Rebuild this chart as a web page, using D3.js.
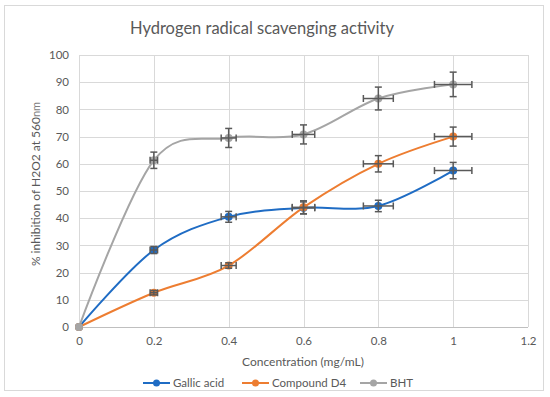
<!DOCTYPE html>
<html><head><meta charset="utf-8">
<script src="https://cdn.jsdelivr.net/npm/d3@7"></script>
<style>
html,body{margin:0;padding:0;background:#fff;}
text{font-family:Lato,"Open Sans",sans-serif;fill:#595959;}
</style></head>
<body><svg id="c" width="550" height="397"></svg>
<script>
const concentration = [0, 0.2, 0.4, 0.6, 0.8, 1.0];
const gallicAcid = [0, 28.3, 40.5, 43.8, 44.5, 57.5];
const compoundD4 = [0, 12.6, 22.6, 44.0, 60.0, 70.0];
const bht = [0, 61.3, 69.5, 70.8, 84.0, 89.2];
const gallicErr = [0, 1.3, 2.0, 2.2, 2.1, 3.0];
const d4Err = [0, 0.8, 1.0, 2.4, 3.0, 3.5];
const bhtErr = [0, 3.0, 3.5, 3.5, 4.2, 4.5];
const xErrPct = 0.05;
const xTicks = [0, 0.2, 0.4, 0.6, 0.8, 1, 1.2];
const yTicks = [0, 10, 20, 30, 40, 50, 60, 70, 80, 90, 100];
const seriesNames = ["Gallic acid", "Compound D4", "BHT"];
const seriesColors = ["#1f6cc4", "#ed7d31", "#a5a5a5"];

const series = [
  {name: seriesNames[0], color: seriesColors[0], vals: gallicAcid, err: gallicErr},
  {name: seriesNames[1], color: seriesColors[1], vals: compoundD4, err: d4Err},
  {name: seriesNames[2], color: seriesColors[2], vals: bht, err: bhtErr}
];

const svg = d3.select("#c");
svg.append("rect").attr("x",4.5).attr("y",5.5).attr("width",539).attr("height",385)
  .attr("fill","#fff").attr("stroke","#d9d9d9").attr("stroke-width",1);

const x = d3.scaleLinear().domain([0,1.2]).range([79,528]);
const y = d3.scaleLinear().domain([0,100]).range([327,55]);

// gridlines
const g = svg.append("g");
g.selectAll(".hg").data(yTicks).join("line")
  .attr("x1",x(0)).attr("x2",x(1.2)).attr("y1",d=>Math.round(y(d))+0.5).attr("y2",d=>Math.round(y(d))+0.5)
  .attr("stroke",d=>d===0?"#bfbfbf":"#d9d9d9").attr("stroke-width",1);
g.selectAll(".vg").data(xTicks).join("line")
  .attr("y1",y(0)).attr("y2",y(100)).attr("x1",d=>Math.round(x(d))+0.5).attr("x2",d=>Math.round(x(d))+0.5)
  .attr("stroke","#d9d9d9").attr("stroke-width",1);

// axes labels via d3 axes
const xAxis = svg.append("g").attr("transform",`translate(0,${y(0)})`)
  .call(d3.axisBottom(x).tickValues(xTicks).tickSize(0).tickPadding(10).tickFormat(d=>d3.format("")(+d.toFixed(1))));
xAxis.select(".domain").remove();
xAxis.selectAll("text").attr("font-size",11.5).style("fill","#595959").style("font-family","Lato");
const yAxis = svg.append("g").attr("transform",`translate(${x(0)},0)`)
  .call(d3.axisLeft(y).tickValues(yTicks).tickSize(0).tickPadding(10));
yAxis.select(".domain").remove();
yAxis.selectAll("text").attr("font-size",11.5).style("fill","#595959").style("font-family","Lato");

// title
svg.append("text").attr("x",262).attr("y",34).attr("text-anchor","middle")
  .attr("font-size",16.5).text("Hydrogen radical scavenging activity");
// axis titles
svg.append("text").attr("x",303).attr("y",366).attr("text-anchor","middle")
  .attr("font-size",12).text("Concentration (mg/mL)");
const yl = svg.append("text").attr("transform","translate(40,184) rotate(-90)").attr("text-anchor","middle")
  .attr("font-size",12);
yl.append("tspan").text("% inhibition of H2O2 at 560");
yl.append("tspan").attr("font-size",11).style("fill","#7f7f7f").text("nm");

// lines
const line = d3.line().x(d=>x(d[0])).y(d=>y(d[1])).curve(d3.curveCardinal.tension(0));
series.forEach(s=>{
  const pts = concentration.map((c,i)=>[c,s.vals[i]]);
  svg.append("path").attr("d",line(pts)).attr("fill","none").attr("stroke",s.color).attr("stroke-width",2);
});
series.forEach(s=>{
  svg.append("g").selectAll("circle").data(concentration.map((c,i)=>[c,s.vals[i]])).join("circle")
    .attr("cx",d=>x(d[0])).attr("cy",d=>y(d[1])).attr("r",4).attr("fill",s.color);
});
// error bars
const eb = svg.append("g").attr("stroke","#595959").attr("stroke-width",1.5).attr("fill","none");
series.forEach(s=>{
  concentration.forEach((c,i)=>{
    if (c===0) return;
    const cx = x(c), cy = y(s.vals[i]);
    const e = s.err[i];
    const y1 = y(s.vals[i]+e), y2 = y(s.vals[i]-e);
    eb.append("line").attr("x1",cx).attr("x2",cx).attr("y1",y1).attr("y2",y2);
    eb.append("line").attr("x1",cx-3.5).attr("x2",cx+3.5).attr("y1",y1).attr("y2",y1);
    eb.append("line").attr("x1",cx-3.5).attr("x2",cx+3.5).attr("y1",y2).attr("y2",y2);
    const xe = c*xErrPct;
    const x1 = x(c-xe), x2 = x(c+xe);
    eb.append("line").attr("x1",x1).attr("x2",x2).attr("y1",cy).attr("y2",cy);
    eb.append("line").attr("x1",x1).attr("x2",x1).attr("y1",cy-3.5).attr("y2",cy+3.5);
    eb.append("line").attr("x1",x2).attr("x2",x2).attr("y1",cy-3.5).attr("y2",cy+3.5);
  });
});

// legend
const legX = [143, 242, 360];
const leg = svg.append("g");
series.forEach((s,i)=>{
  const lx = legX[i], ly = 383;
  leg.append("line").attr("x1",lx).attr("x2",lx+27).attr("y1",ly).attr("y2",ly).attr("stroke",s.color).attr("stroke-width",2);
  leg.append("circle").attr("cx",lx+13.5).attr("cy",ly).attr("r",3.5).attr("fill",s.color);
  leg.append("text").attr("x",lx+30).attr("y",ly+4).attr("font-size",11.5).text(s.name);
});
</script></body></html>
